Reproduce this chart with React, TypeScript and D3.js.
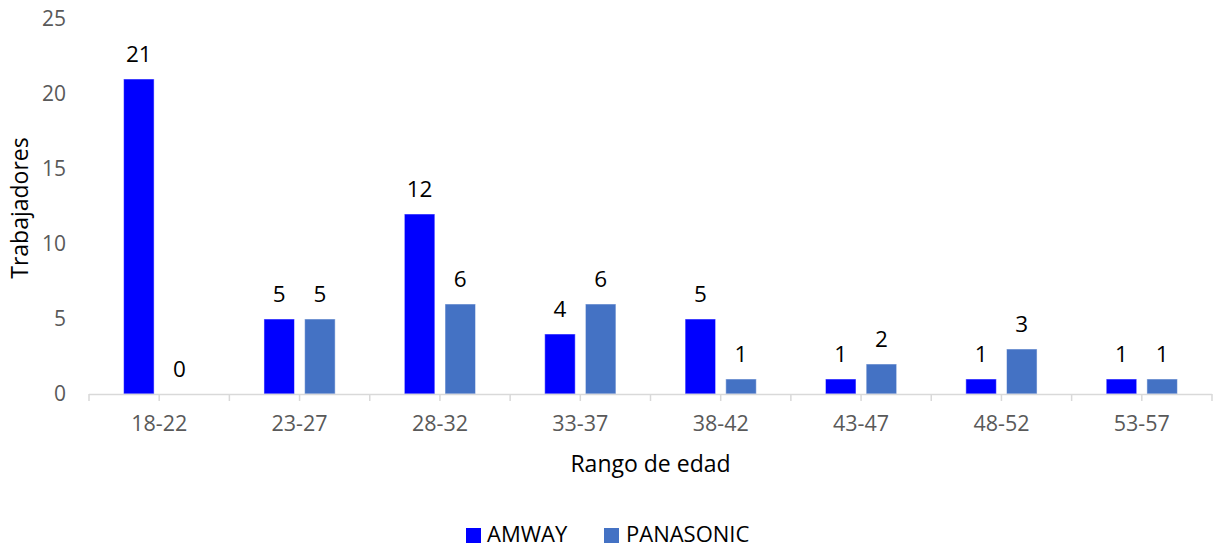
import React from "react";
import * as d3 from "d3";

const categories = ["18-22", "23-27", "28-32", "33-37", "38-42", "43-47", "48-52", "53-57"];
const amway = [21, 5, 12, 4, 5, 1, 1, 1];
const panasonic = [0, 5, 6, 6, 1, 2, 3, 1];
const yTicks = [0, 5, 10, 15, 20, 25];
const seriesNames = ["AMWAY", "PANASONIC"];
const colors = ["#0000FF", "#4472C4"];

const W = 1216, H = 549;
const FONT = "'Open Sans', 'Noto Sans', sans-serif";

export default function App() {
  const x0 = d3.scaleBand().domain(categories).range([89, 1212]).paddingInner(0).paddingOuter(0);
  const x1 = d3.scaleBand().domain(seriesNames).range([0, x0.bandwidth()]).paddingInner(0.25).paddingOuter(0.85);
  const y = d3.scaleLinear().domain([0, 25]).range([394, 19]);
  const series = [amway, panasonic];
  const bw = x1.bandwidth();
  const ticks: number[] = [];
  for (let i = 0; i <= categories.length * 2; i++) ticks.push(89 + (i * (1212 - 89)) / (categories.length * 2));
  const cx = (89 + 1212) / 2;

  return (
    <svg width={W} height={H} style={{ position: "absolute", left: 0, top: 0, background: "#fff" }} fontFamily={FONT}>
      {yTicks.map((t) => (
        <text key={t} x={66} y={y(t)} dy="0.35em" textAnchor="end" fontSize={21} fill="#595959">
          {t}
        </text>
      ))}
      {categories.map((c, i) => (
        <g key={c} transform={`translate(${x0(c)},0)`}>
          {seriesNames.map((s, j) => {
            const v = series[j][i];
            const bx = x1(s)!;
            return (
              <g key={s}>
                {v > 0 && (
                  <rect x={bx} y={y(v)} width={bw} height={y(0) - y(v)} fill={colors[j]} stroke="#ffffff" strokeOpacity={0.5} strokeWidth={1} />
                )}
                <text x={bx + bw / 2} y={y(v) - 25} dy="0.35em" textAnchor="middle" fontSize={22.5} fill="#000">
                  {v}
                </text>
              </g>
            );
          })}
        </g>
      ))}
      <line x1={89} x2={1212} y1={394.5} y2={394.5} stroke="#d9d9d9" strokeWidth={1.5} />
      {ticks.map((t, i) => (
        <line key={i} x1={t} x2={t} y1={394} y2={401} stroke="#d9d9d9" strokeWidth={1.5} />
      ))}
      {categories.map((c) => (
        <text key={c} x={x0(c)! + x0.bandwidth() / 2} y={423} dy="0.35em" textAnchor="middle" fontSize={21.5} fill="#595959">
          {c}
        </text>
      ))}
      <text x={cx} y={464} dy="0.35em" textAnchor="middle" fontSize={23} fill="#000">
        Rango de edad
      </text>
      <text transform="translate(20,208) rotate(-90)" dy="0.35em" textAnchor="middle" fontSize={23} fill="#000">
        Trabajadores
      </text>
      <rect x={466} y={528} width={15} height={15} fill={colors[0]} />
      <text x={487} y={534} dy="0.35em" fontSize={22} fill="#000">AMWAY</text>
      <rect x={604} y={528} width={15} height={15} fill={colors[1]} />
      <text x={626} y={534} dy="0.35em" fontSize={22} fill="#000">PANASONIC</text>
    </svg>
  );
}
